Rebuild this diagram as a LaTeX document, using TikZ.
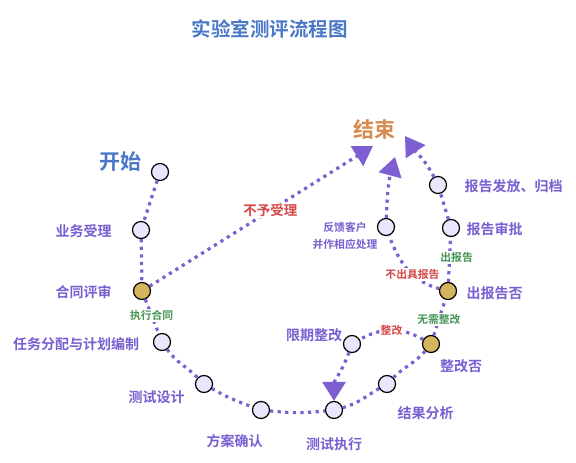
\documentclass[tikz,border=0pt]{standalone}
\usepackage{fontspec}
\setmainfont{Noto Sans CJK SC}
\newfontfamily\medfont{Noto Sans CJK SC Medium}
\newfontfamily\boldfont{Noto Sans CJK SC Bold}
\usetikzlibrary{arrows.meta}
\definecolor{dotc}{RGB}{125,95,210}
\definecolor{lblc}{RGB}{120,95,210}
\definecolor{circfill}{RGB}{236,230,253}
\definecolor{goldfill}{RGB}{212,180,92}
\definecolor{titleblue}{RGB}{74,120,200}
\definecolor{endorange}{RGB}{214,138,80}
\definecolor{redc}{RGB}{214,72,72}
\definecolor{greenc}{RGB}{70,150,85}
\begin{document}
\begin{tikzpicture}[x=1pt,y=1pt,
  pt/.style={circle,draw=black,line width=1.2pt,fill=circfill,minimum size=17pt,inner sep=0pt},
  gold/.style={pt,fill=goldfill},
  lbl/.style={text=lblc,font=\boldfont\fontsize{14}{16}\selectfont,inner sep=0pt},
  smlbl/.style={text=lblc,font=\boldfont\fontsize{10.8}{12}\selectfont,inner sep=0pt},
  flow/.style={draw=dotc,line width=3.2pt,dash pattern=on 3.2pt off 4.4pt},
  elbl/.style={font=\boldfont\fontsize{10.8}{12}\selectfont,fill=white,inner sep=1.2pt},
  tipped/.style={-{Triangle[width=23pt,length=19pt]}}
]
\useasboundingbox (0,0) rectangle (576,-463);

% title
\node[text=titleblue,font=\boldfont\fontsize{19.5}{22}\selectfont,inner sep=0pt] (title) at (269.5,-29) {实验室测评流程图};

% circles
\node[pt]   (st) at (160,-172) {};
\node[pt]   (yw) at (141,-230) {};
\node[gold] (ht) at (142,-291) {};
\node[pt]   (rw) at (162,-342) {};
\node[pt]   (sj) at (204,-384) {};
\node[pt]   (fa) at (261,-410) {};
\node[pt]   (zx) at (334,-410) {};
\node[pt]   (jg) at (387,-384) {};
\node[gold] (zg) at (431,-344) {};
\node[pt]   (xq) at (352,-344) {};
\node[gold] (cb) at (448,-291) {};
\node[pt]   (sp) at (451,-228) {};
\node[pt]   (ff) at (438,-185) {};
\node[pt]   (fk) at (386,-227) {};

% arrow ends near the end label
\coordinate (e1) at (373,-146);
\coordinate (e2) at (395,-157);
\coordinate (e3) at (405,-136);

% labels
\node[text=titleblue,font=\boldfont\fontsize{21}{24}\selectfont,inner sep=0pt] (lst) at (120.5,-162) {开始};
\node[text=endorange,font=\boldfont\fontsize{21}{24}\selectfont,inner sep=0pt] (lend) at (374,-130) {结束};
\node[lbl] (lyw) at (83.5,-231) {业务受理};
\node[lbl] (lht) at (83.5,-292) {合同评审};
\node[lbl] (lrw) at (76,-344) {任务分配与计划编制};
\node[lbl] (lsj) at (156.5,-397.5) {测试设计};
\node[lbl] (lfa) at (234.5,-441) {方案确认};
\node[lbl] (lzx) at (334,-444) {测试执行};
\node[lbl] (ljg) at (425.5,-413) {结果分析};
\node[lbl] (lzg) at (461,-366) {整改否};
\node[lbl] (lxq) at (314,-335.5) {限期整改};
\node[lbl] (lcb) at (494.5,-293) {出报告否};
\node[lbl] (lsp) at (494.5,-229.5) {报告审批};
\node[lbl] (lff) at (513.5,-186.5) {报告发放、归档};
\node[smlbl,align=center,font=\boldfont\fontsize{10.8}{17}\selectfont] (lfk) at (345,-236) {反馈客户\\并作相应处理};

% connectors
\draw[flow] (st) -- (yw);
\draw[flow] (yw) -- (ht);
\draw[flow] (ht) -- node[elbl,text=greenc,pos=0.47] {执行合同} (rw);
\draw[flow] (rw) to[out=-55,in=135] (sj);
\draw[flow] (sj) to[out=-30,in=160] (fa);
\draw[flow] (fa) to[out=-6,in=-174] (zx);
\draw[flow] (zx) to[out=15,in=-150] (jg);
\draw[flow] (jg) to[out=45,in=-130] (zg);
\draw[flow] (zg) to[out=150,in=30] node[elbl,text=redc] {整改} (xq);
\draw[flow,tipped] (xq) to[out=-110,in=90] (zx);
\draw[flow] (zg) -- node[elbl,text=greenc,pos=0.45] {无需整改} (cb);
\draw[flow] (cb) -- node[elbl,text=greenc,pos=0.55,xshift=7pt] {出报告} (sp);
\draw[flow] (sp) -- (ff);
\draw[flow,tipped] (ff) to[out=117,in=-56] (e3);
\draw[flow] (cb) to[out=165,in=-70] node[elbl,text=redc,pos=0.4] {不出具报告} (fk);
\draw[flow,tipped] (fk) to[out=88,in=-105] (e2);
\draw[flow,tipped] (ht) -- node[elbl,text=redc,pos=0.54,font=\boldfont\fontsize{13.5}{15}\selectfont] {不予受理} (e1);
\end{tikzpicture}
\end{document}
